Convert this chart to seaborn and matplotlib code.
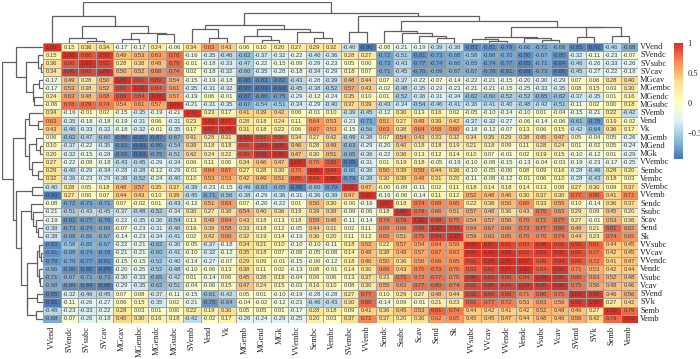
import numpy as np
import pandas as pd
import matplotlib
matplotlib.use("Agg")
import matplotlib.pyplot as plt
from matplotlib.colors import LinearSegmentedColormap
import seaborn as sns

labels = ["VVend","SVendc","SVsubc","SVcav","MGcav","MGembc","MGendc","MGsubc","SVemb","Vend","Vk",
          "MGemb","MGend","MGk","VVembc","Sembc","Vembc","SVembc","VVemb","Sendc","Ssubc","Scav","Send","Sk",
          "VVsubc","VVcav","VVendc","Vendc","Vsubc","Vcav","SVend","SVk","Semb","Vemb"]

r_VVend = [1,.15,.36,.34,-.17,-.17,.24,-.06,.34,.63,.43,.06,.10,.20,.27,.29,.32,-.40,-.90,-.08,-.21,-.19,-.39,-.38,-.83,-.81,-.79,-.66,-.71,-.68,-.85,-.91,-.46,-.68]
r_SVendc = [.15,1,.86,.96,.49,.53,.63,.78,-.16,-.35,-.46,-.62,-.37,-.32,-.22,-.40,-.36,.28,.27,-.72,-.51,-.81,-.73,-.68,-.58,-.68,-.70,-.80,-.67,-.80,-.32,-.11,-.23,-.07]
r_SVsubc = [.36,.86,1,.92,.28,.38,.48,.79,-.01,-.18,-.33,-.47,-.22,-.15,-.09,-.29,-.23,.05,.00,-.73,-.43,-.77,-.74,-.66,-.65,-.74,-.77,-.85,-.71,-.84,-.46,-.26,-.33,-.26]
r_SVcav = [.34,.96,.92,1,.50,.52,.68,.74,.02,-.18,-.32,-.60,-.35,-.28,-.18,-.34,-.29,.18,.07,-.71,-.45,-.76,-.69,-.67,-.67,-.78,-.81,-.89,-.73,-.88,-.45,-.27,-.22,-.18]
r_MGcav = [-.17,.49,.28,.50,1,.91,.89,.54,-.15,-.19,-.18,-.86,-.83,-.82,-.43,-.28,-.39,.48,.44,.07,-.37,-.22,-.07,-.14,-.22,-.21,-.15,-.20,-.30,-.29,.07,.06,.28,.40]
r_MGembc = [-.17,.53,.38,.52,.91,1,.84,.61,-.35,-.31,-.32,-.97,-.93,-.93,-.45,-.38,-.52,.57,.43,-.02,-.48,-.35,-.23,-.23,-.21,-.21,-.15,-.25,-.33,-.35,.08,.15,.03,.30]
r_MGendc = [.24,.63,.48,.68,.89,.84,1,.57,-.19,.06,-.01,-.87,-.80,-.75,-.29,-.12,-.24,.35,.10,.01,-.52,-.36,-.31,-.34,-.62,-.60,-.52,-.52,-.65,-.62,-.37,-.35,.01,.16]
r_MGsubc = [-.06,.78,.79,.74,.54,.61,.57,1,-.21,-.31,-.35,-.67,-.54,-.51,-.34,-.29,-.40,.37,.39,-.43,-.34,-.54,-.46,-.41,-.36,-.41,-.40,-.48,-.42,-.51,-.11,.02,.00,.18]
r_SVemb = [.34,-.16,-.01,.02,-.15,-.35,-.19,-.21,1,.23,.17,.41,.39,.42,.06,-.01,.10,-.39,-.45,-.12,.30,.13,.16,.02,-.05,-.10,-.14,-.10,.01,-.04,-.15,-.21,.22,-.42]
r_Vend = [.63,-.35,-.18,-.18,-.19,-.31,.06,-.31,.23,1,.97,.28,.18,.24,.11,.64,.53,-.23,-.71,.51,.27,.49,.39,.42,-.37,-.32,-.27,-.06,-.14,-.06,-.61,-.78,.19,-.02]
r_Vk = [.43,-.46,-.33,-.32,-.18,-.32,-.01,-.35,.17,.97,1,.31,.18,.22,.06,.67,.53,-.15,-.56,.63,.38,.64,.58,.60,-.18,-.12,-.07,.13,.06,.15,-.42,-.64,.36,.17]
r_MGemb = [.06,-.62,-.47,-.60,-.86,-.97,-.87,-.67,.41,.28,.31,1,.91,.90,.34,.27,.42,-.49,-.38,.07,.54,.43,.33,.32,.34,.35,.29,.38,.45,.47,.05,-.04,.05,-.26]
r_MGend = [.10,-.37,-.22,-.35,-.83,-.93,-.80,-.54,.39,.18,.18,.91,1,.99,.46,.28,.49,-.63,-.29,-.20,.40,.18,.18,.19,.21,.18,.09,.11,.28,.24,.01,-.02,.05,-.24]
r_MGk = [.20,-.32,-.15,-.28,-.82,-.93,-.75,-.51,.42,.24,.22,.90,.99,1,.47,.30,.51,-.65,-.36,-.22,.36,.13,.12,.14,.10,.07,-.01,.02,.19,.15,-.10,-.12,.01,-.29]
r_VVembc = [.27,-.22,-.09,-.18,-.43,-.45,-.29,-.34,.06,.11,.06,.34,.46,.47,1,.70,.85,-.88,-.31,.01,.19,.18,-.05,-.19,-.10,-.08,-.15,-.13,-.04,-.03,-.19,-.23,-.17,-.25]
r_Sembc = [.29,-.40,-.29,-.34,-.28,-.38,-.12,-.29,-.01,.64,.67,.27,.28,.30,.70,1,.94,-.60,-.36,.50,.39,.59,.44,.36,-.10,-.05,-.06,.08,.09,.16,-.28,-.46,.28,.20]
r_Vembc = [.32,-.36,-.23,-.29,-.39,-.52,-.24,-.40,.10,.53,.53,.42,.49,.51,.85,.94,1,-.79,-.39,.30,.39,.48,.31,.20,-.11,-.08,-.12,-.01,.06,.10,-.28,-.43,.18,.03]
r_SVembc = [-.40,.28,.05,.18,.48,.57,.35,.37,-.39,-.23,-.15,-.49,-.63,-.65,-.88,-.60,-.79,1,.47,-.0,-.09,-.11,.02,.11,.18,.14,.18,.14,.13,.08,.27,.30,.09,.37]
r_VVemb = [-.90,.27,.00,.07,.44,.43,.10,.39,-.45,-.71,-.56,-.38,-.29,-.36,-.31,-.36,-.39,.47,1,-.16,-.06,-.14,.11,.12,.52,.48,.46,.30,.37,.30,.77,.80,.41,.71]
r_Sendc = [-.08,-.72,-.73,-.71,.07,-.02,.01,-.43,-.12,.51,.63,.07,-.20,-.22,.01,.50,.30,-.0,-.16,1,.18,.74,.69,.65,.22,.38,.50,.66,.33,.55,.10,-.14,.36,.37]
r_Ssubc = [-.21,-.51,-.43,-.45,-.37,-.48,-.52,-.34,.30,.27,.38,.54,.40,.36,.19,.39,.39,-.09,-.06,.18,1,.79,.66,.51,.57,.48,.36,.43,.75,.63,.29,.09,.45,.20]
r_Scav = [-.19,-.81,-.77,-.76,-.22,-.35,-.36,-.54,.13,.49,.64,.43,.18,.13,.18,.59,.48,-.11,-.14,.74,.79,1,.88,.75,.54,.57,.56,.70,.72,.77,.27,-.01,.53,.36]
r_Send = [-.39,-.73,-.74,-.69,-.07,-.23,-.31,-.46,.16,.39,.58,.33,.18,.12,-.05,.44,.31,.02,.11,.69,.66,.88,1,.94,.64,.67,.66,.73,.77,.80,.48,.21,.81,.62]
r_Sk = [-.38,-.68,-.66,-.67,-.14,-.23,-.34,-.41,.02,.42,.60,.32,.19,.14,-.19,.36,.20,.11,.12,.65,.51,.75,.94,1,.59,.63,.65,.70,.70,.74,.44,.23,.74,.65]
r_VVsubc = [-.83,-.58,-.65,-.67,-.22,-.21,-.62,-.36,-.05,-.37,-.18,.34,.21,.10,-.10,-.10,-.11,.18,.52,.22,.57,.54,.64,.59,1,.97,.91,.83,.96,.91,.92,.81,.44,.45]
r_VVcav = [-.81,-.68,-.74,-.78,-.21,-.21,-.60,-.41,-.10,-.32,-.12,.35,.18,.07,-.08,-.05,-.08,.14,.48,.38,.48,.57,.67,.63,.97,1,.98,.92,.93,.95,.90,.77,.42,.45]
r_VVendc = [-.79,-.70,-.77,-.81,-.15,-.15,-.52,-.40,-.14,-.27,-.07,.29,.09,-.01,-.15,-.06,-.12,.18,.46,.50,.36,.56,.66,.65,.91,.98,1,.97,.86,.94,.86,.72,.41,.47]
r_Vendc = [-.66,-.80,-.85,-.89,-.20,-.25,-.52,-.48,-.10,-.06,.13,.38,.11,.02,-.13,.08,-.01,.14,.30,.66,.43,.70,.73,.70,.83,.92,.97,1,.84,.98,.71,.53,.42,.44]
r_Vsubc = [-.71,-.67,-.71,-.73,-.30,-.33,-.65,-.42,.01,-.14,.06,.45,.28,.19,-.04,.09,.06,.13,.37,.33,.75,.72,.77,.70,.96,.93,.86,.84,1,.95,.80,.63,.52,.48]
r_Vcav = [-.68,-.80,-.84,-.88,-.29,-.35,-.62,-.51,-.04,-.06,.15,.47,.24,.15,-.03,.16,.10,.08,.30,.55,.63,.77,.80,.74,.91,.95,.94,.98,.95,1,.75,.56,.48,.46]
r_SVend = [-.85,-.32,-.46,-.45,.07,.08,-.37,-.11,-.15,-.61,-.42,.05,.01,-.10,-.19,-.28,-.28,.27,.77,.10,.29,.27,.48,.44,.92,.90,.86,.71,.80,.75,1,.95,.46,.56]
r_SVk = [-.91,-.11,-.26,-.27,.06,.15,-.35,.02,-.21,-.78,-.64,-.04,-.02,-.12,-.23,-.46,-.43,.30,.80,-.14,.09,-.01,.21,.23,.81,.77,.72,.53,.63,.56,.95,1,.27,.42]
r_Semb = [-.46,-.23,-.33,-.22,.28,.03,.01,.00,.22,.19,.36,.05,.05,.01,-.17,.28,.18,.09,.41,.36,.45,.53,.81,.74,.44,.42,.41,.42,.52,.48,.46,.27,1,.79]
r_Vemb = [-.68,-.07,-.26,-.18,.40,.30,.16,.18,-.42,-.02,.17,-.26,-.24,-.29,-.25,.20,.03,.37,.71,.37,.20,.36,.62,.65,.45,.45,.47,.44,.48,.46,.56,.42,.79,1]

rows = [r_VVend,r_SVendc,r_SVsubc,r_SVcav,r_MGcav,r_MGembc,r_MGendc,r_MGsubc,r_SVemb,r_Vend,r_Vk,
        r_MGemb,r_MGend,r_MGk,r_VVembc,r_Sembc,r_Vembc,r_SVembc,r_VVemb,r_Sendc,r_Ssubc,r_Scav,r_Send,r_Sk,
        r_VVsubc,r_VVcav,r_VVendc,r_Vendc,r_Vsubc,r_Vcav,r_SVend,r_SVk,r_Semb,r_Vemb]

# dendrogram as nested merges: (height, left, right); leaves are label indices
t_SV = (5, 1, (2, 2, 3))
t_MG = (9.7, (4, 4, 5), (8.9, 6, 7))
t_left = (27, 0, (17, t_SV, t_MG))
t_V = (14, 8, (5, 9, 10))
t_MGe = (7, 11, (3, 12, 13))
t_Ve = (11, 14, (5, 15, 16))
t_mid = (18, t_V, (14, t_MGe, t_Ve))
t_S = (12, 19, (10, 20, (7, 21, (5, 22, 23))))
t_VV = (6, (4, 24, (2, 25, 26)), (4.5, 27, (3, 28, 29)))
t_R = (16, t_VV, (15.8, (6, 30, 31), (7, 32, 33)))
t_right = (27, (11, 17, 18), (22, t_S, t_R))
tree = (41, t_left, (30, t_mid, t_right))

W, H = 700, 359
X0, X1, Y0, Y1 = 43, 638, 43, 323
fig = plt.figure(figsize=(7, 3.59), dpi=100)
def axpx(x0, y0, x1, y1):
    return fig.add_axes([x0 / W, 1 - y1 / H, (x1 - x0) / W, (y1 - y0) / H])

ax = axpx(X0, Y0, X1, Y1)
cax = axpx(674, 43, 683, 159)
top = axpx(X0, 2, X1, Y0)
left = axpx(2, Y0, X0, Y1)

cmap = LinearSegmentedColormap.from_list("rdylbu7", ["#4575B4","#91BFDB","#E0F3F8","#FFFFBF","#FEE090","#FC8D59","#D73027"], N=100)
df = pd.DataFrame(rows, index=labels, columns=labels)
sns.heatmap(df, ax=ax, cmap=cmap, vmin=-0.93, vmax=1, annot=True, fmt=".2f",
            annot_kws={"fontsize": 4.2, "family": "Liberation Sans"},
            linewidths=0.6, linecolor="#a0a0a0", cbar_ax=cax, xticklabels=True, yticklabels=True)
for t in ax.texts:
    t.set_color("#404040")
ax.yaxis.tick_right()
ax.tick_params(length=0, pad=1.5)
ax.tick_params(axis="x", pad=2)
for t in ax.get_yticklabels():
    t.set(rotation=0, family="Liberation Serif", fontsize=6, color="#222222", va="center")
for t in ax.get_xticklabels():
    t.set(rotation=90, family="Liberation Serif", fontsize=6, color="#222222", va="top", ha="center")

cax.set_yticks([-0.5, 0, 0.5, 1])
cax.set_yticklabels(["\u22120.5", "0", "0.5", "1"], family="Liberation Serif", fontsize=6, color="#222222")
cax.tick_params(length=0, pad=3)
for s in cax.spines.values():
    s.set_visible(False)
cax.collections[0].set_edgecolor("face")

def draw(node, plot):
    if not isinstance(node, tuple):
        return node + 0.5, 0.0
    h, a, b = node
    xa, ha = draw(a, plot)
    xb, hb = draw(b, plot)
    plot([xa, xa, xb, xb], [ha, h, h, hb])
    return (xa + xb) / 2, h

line = dict(color="#606060", lw=0.9, solid_joinstyle="miter")
draw(tree, lambda xs, ys: top.plot(xs, ys, **line))
draw(tree, lambda xs, ys: left.plot(ys, xs, **line))
top.set_xlim(0, 34); top.set_ylim(0, 41)
left.set_ylim(34, 0); left.set_xlim(41, 0)
for a in (top, left):
    a.axis("off")

fig.savefig("out.png", dpi=100)
